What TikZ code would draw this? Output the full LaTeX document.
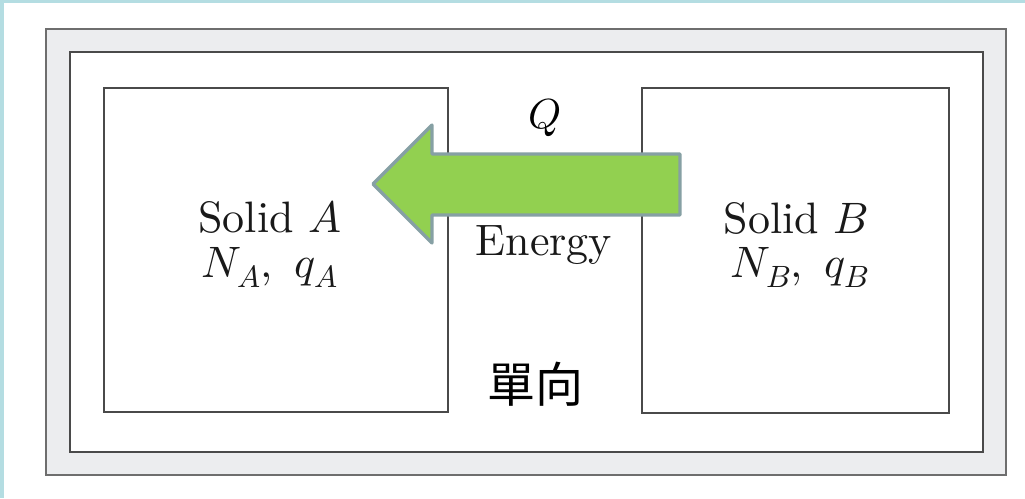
\documentclass[tikz,border=0pt]{standalone}
\usepackage{fontspec}
\usepackage{unicode-math}
\setmainfont{lmroman10-regular.otf}[ItalicFont=lmroman10-italic.otf, BoldFont=lmroman10-bold.otf]
\setmathfont{Latin Modern Math}
\newfontfamily\cjkfont{Noto Sans CJK TC}
\definecolor{edgeblue}{HTML}{B4DDE2}
\definecolor{bandgray}{HTML}{ECEDEF}
\definecolor{frameline}{HTML}{4A4A4A}
\definecolor{arrowgreen}{HTML}{92D050}
\definecolor{arrowedge}{HTML}{86A0A4}
\tikzset{
  frame/.style={draw=frameline, line width=2pt},
  solidbox/.style={draw=frameline, line width=1.8pt, fill=white},
  bigtext/.style={font=\fontsize{44}{48}\selectfont, inner sep=0pt, text=black!90},
  energyarrow/.style={fill=arrowgreen, draw=arrowedge, line width=3.2pt, line join=round}
}
\begin{document}
\begin{tikzpicture}[x=1pt,y=-1pt]
\useasboundingbox (0,0) rectangle (1025,498);
\fill[white] (0,0) rectangle (1025,498);
% light blue page edges
\fill[edgeblue] (0,0) rectangle (1025,3);
\fill[edgeblue] (0,0) rectangle (4,498);
% outer double frame with grey band
\fill[bandgray, even odd rule] (46,29) rectangle (1006,475) (70,52) rectangle (983,452);
\draw[frame, draw=frameline!80] (46,29) rectangle (1006,475);
\draw[frame] (70,52) rectangle (983,452);
% solids
\draw[solidbox] (104,88) rectangle (448,412);
\draw[solidbox] (642,88) rectangle (949,413);
% texts
\node[bigtext, anchor=base] (solidA) at (270,232) {Solid $A$};
\node[bigtext, anchor=base] (nqA) at (270,277) {$N_A,\ q_A$};
\node[bigtext, anchor=base] (solidB) at (796,233) {Solid $B$};
\node[bigtext, anchor=base] (nqB) at (800,277) {$N_B,\ q_B$};
\node[bigtext, anchor=base] (energy) at (544,255) {Energy};
% arrow
\draw[energyarrow] (373,184) -- (432,125) -- (432,154) -- (680,154) -- (680,215) -- (432,215) -- (432,243) -- cycle;
\node[font=\fontsize{42}{46}\selectfont, inner sep=0pt, anchor=base] (Q) at (545,128) {$Q$};
\node[font=\cjkfont\fontsize{48}{52}\selectfont, inner sep=0pt] (dir) at (535,384) {單向};
\end{tikzpicture}
\end{document}
